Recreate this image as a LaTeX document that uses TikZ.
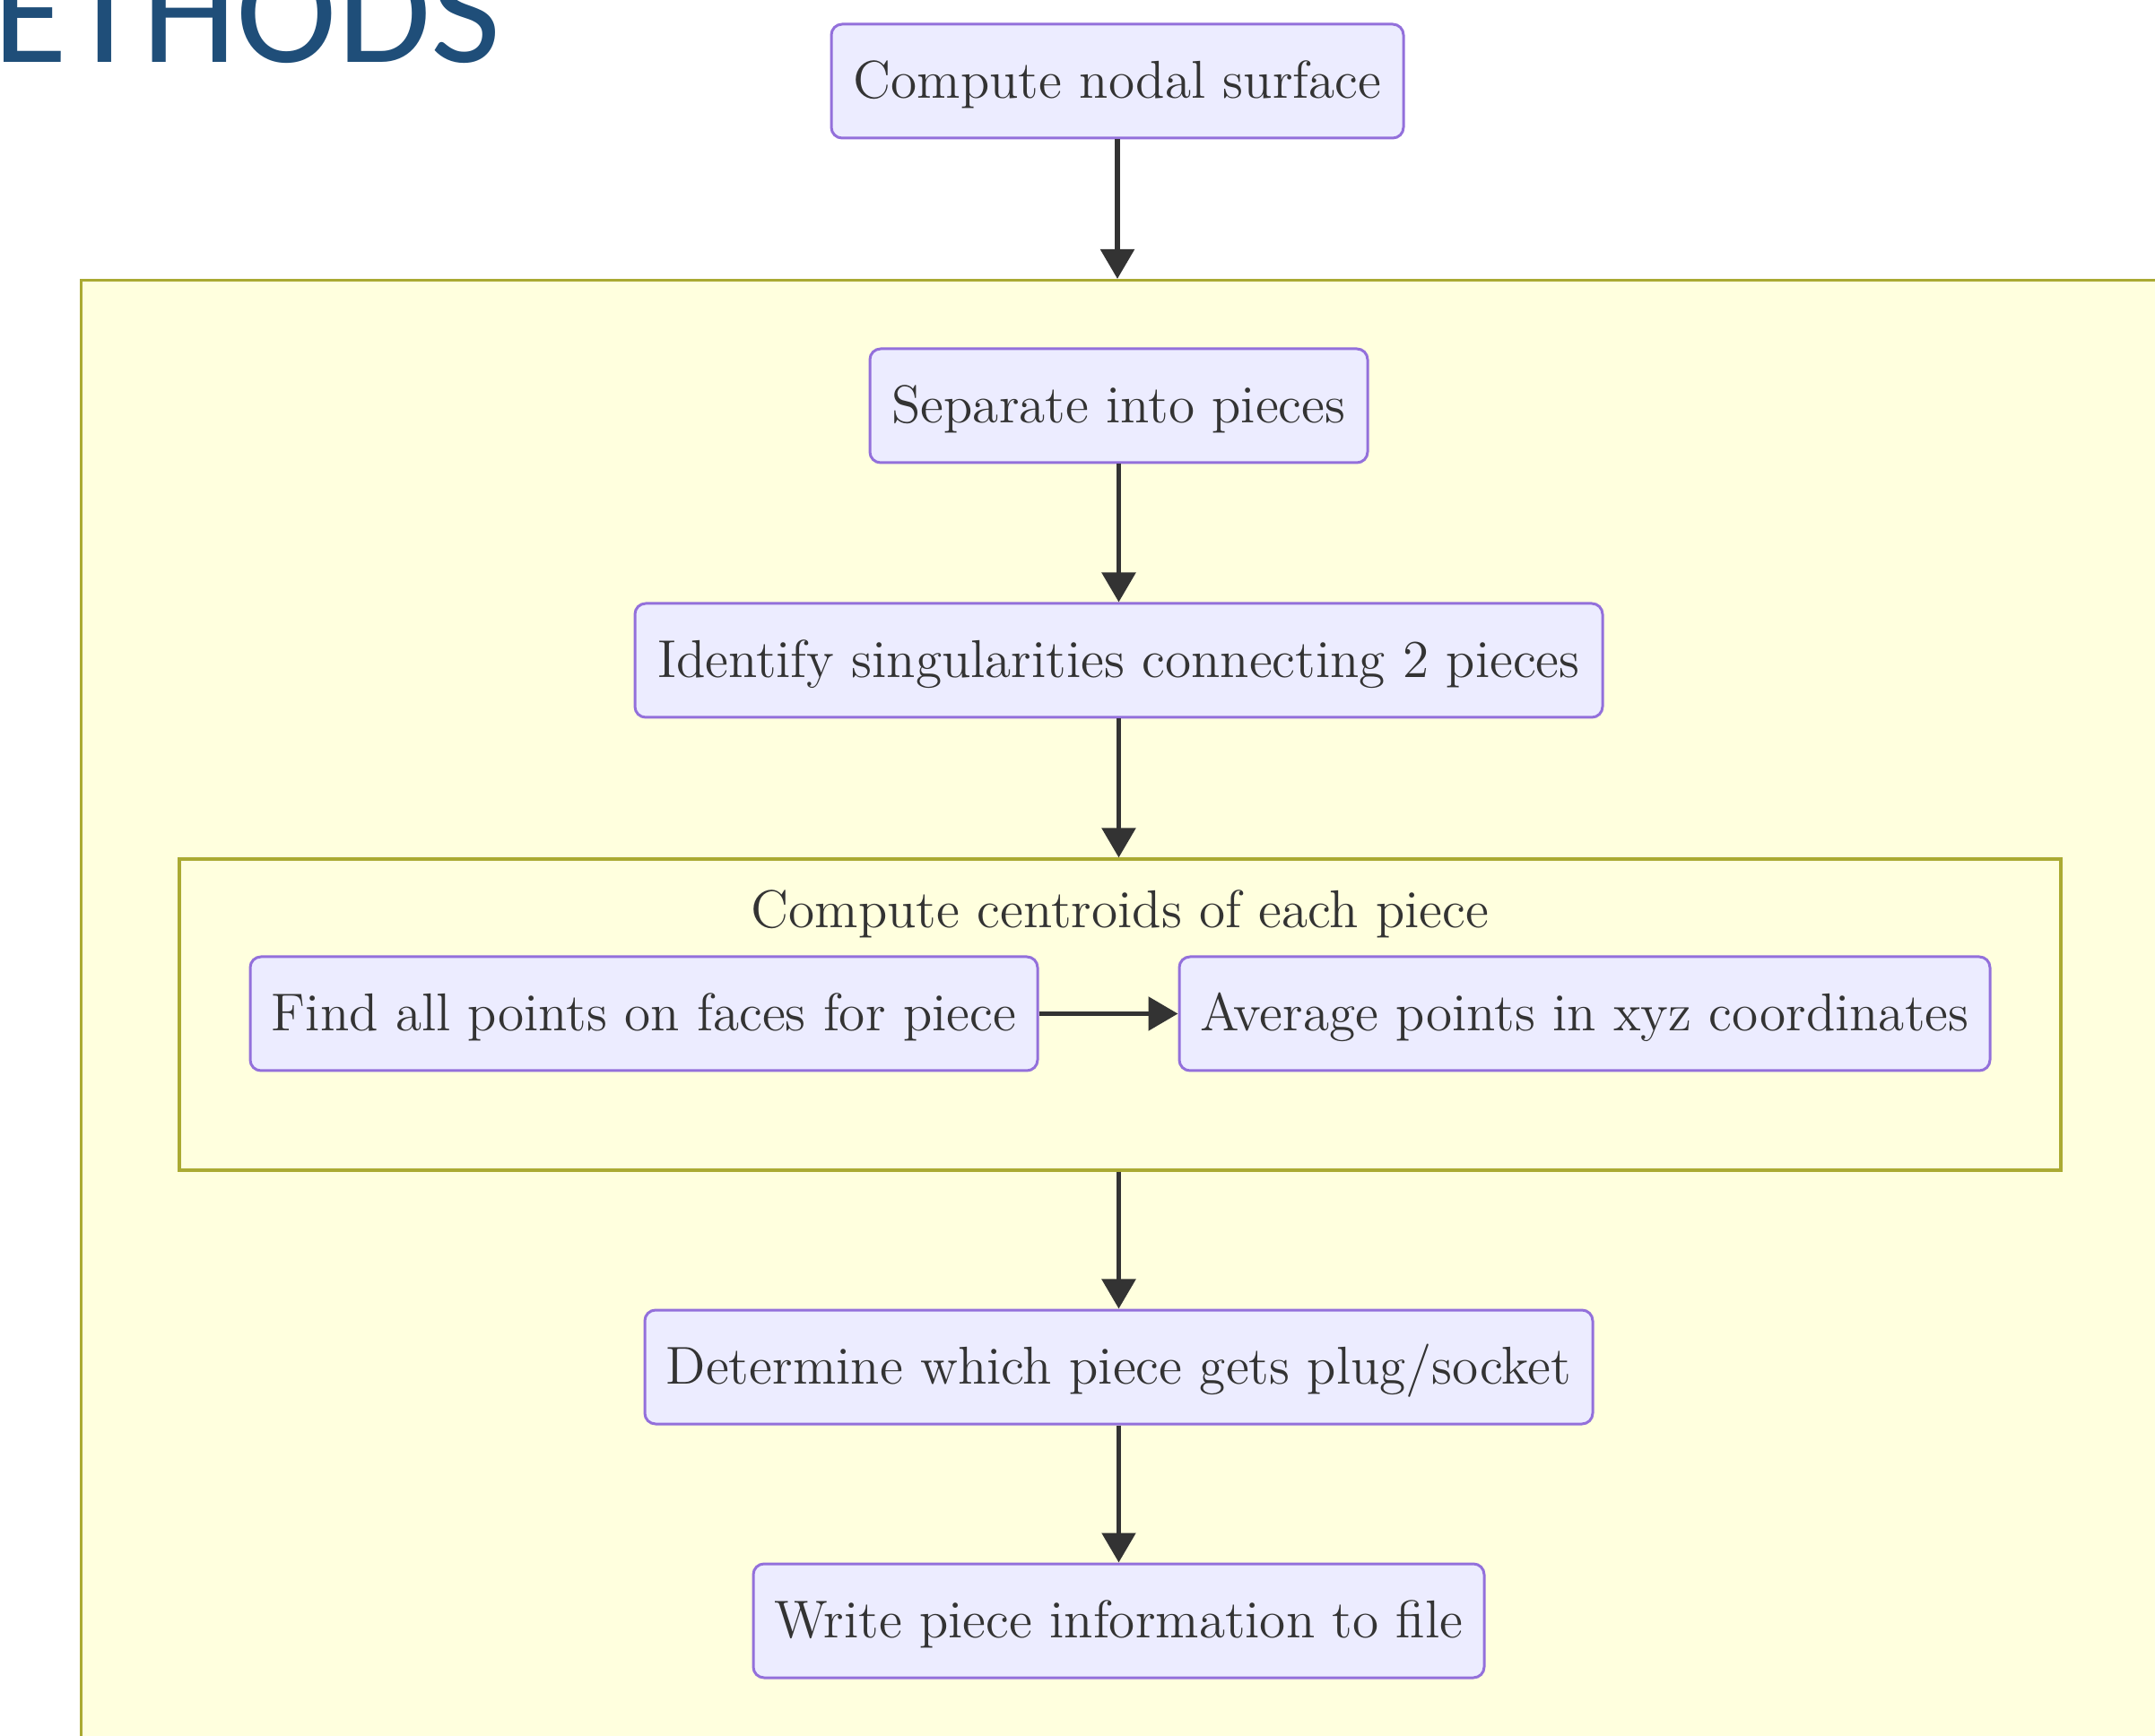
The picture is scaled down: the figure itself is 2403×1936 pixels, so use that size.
\documentclass[tikz,border=0pt]{standalone}
\usepackage{fontspec}
\newfontfamily\headfont{Carlito}
\usetikzlibrary{arrows.meta}
\definecolor{nodefill}{HTML}{ECECFF}
\definecolor{nodeline}{HTML}{9370DB}
\definecolor{clfill}{HTML}{FFFFDE}
\definecolor{clline}{HTML}{AAAA33}
\definecolor{txt}{HTML}{333333}
\definecolor{head}{HTML}{1F4E79}
\begin{document}
\begin{tikzpicture}[x=0.25pt,y=-0.25pt,
  box/.style={draw=nodeline, fill=nodefill, line width=0.75pt, rounded corners=3pt,
    text=txt, font=\fontsize{14.85}{17}\selectfont, minimum height=31.75pt, inner sep=0pt,
    text height=11pt, text depth=1.3pt},
  arr/.style={draw=txt, line width=1.4pt, -{Triangle[length=8.25pt,width=9.25pt]}},
  cluster/.style={draw=clline, fill=clfill, line width=0.8pt, inner sep=0pt},
  lbl/.style={text=txt, font=\fontsize{14.85}{17}\selectfont, inner sep=0pt,
    text height=11pt, text depth=1.3pt}]
\useasboundingbox (0,0) rectangle (2403,1936);
\clip (0,0) rectangle (2403,1936);
\fill[white] (0,0) rectangle (2403,1936);
% title
\node[anchor=base west, text=head, font=\headfont\fontsize{42.4}{46}\selectfont, inner sep=0pt] (title) at (-8,70) {ETHODS};
% clusters
\node[cluster, anchor=north west, minimum width=590pt, minimum height=420pt] (outer) at (89,311) {};
\node[cluster, minimum width=524.5pt, minimum height=86.75pt] (inner) at (1249,1131.5) {};
\node[lbl] (innerlbl) at (1249,1015) {Compute centroids of each piece};
% nodes
\node[box, minimum width=159.5pt] (n1) at (1246,90.5) {Compute nodal surface};
\node[box, minimum width=138.75pt] (n2) at (1247.5,452.5) {Separate into pieces};
\node[box, minimum width=269.75pt] (n3) at (1247.5,736.5) {Identify singularities connecting 2 pieces};
\node[box, minimum width=219.5pt] (n4) at (718,1130.5) {Find all points on faces for piece};
\node[box, minimum width=226pt] (n5) at (1767,1130.5) {Average points in xyz coordinates};
\node[box, minimum width=264.25pt] (n6) at (1247.5,1524.5) {Determine which piece gets plug/socket};
\node[box, minimum width=203.75pt] (n7) at (1247.5,1807.5) {Write piece information to file};
% edges
\draw[arr] (n1.south) -- (n1.south |- outer.north);
\draw[arr] (n2) -- (n3);
\draw[arr] (n3.south) -- (n3.south |- inner.north);
\draw[arr] (n4) -- (n5);
\draw[arr] (n6.north |- inner.south) -- (n6.north);
\draw[arr] (n6) -- (n7);
\end{tikzpicture}
\end{document}
